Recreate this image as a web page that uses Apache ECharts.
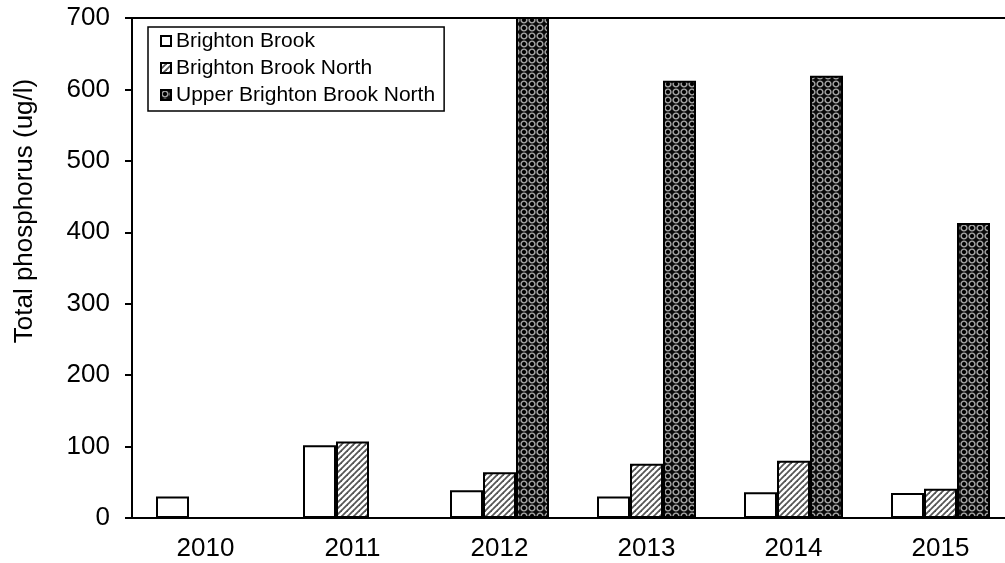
<!DOCTYPE html>
<html>
<head>
<meta charset="utf-8">
<script src="https://cdn.jsdelivr.net/npm/echarts@6/dist/echarts.min.js"></script>
<style>
html,body{margin:0;padding:0;background:#fff;}
#chart{width:1005px;height:563px;}
</style>
</head>
<body>
<div id="chart"></div>
<script>
const categories = ['2010', '2011', '2012', '2013', '2014', '2015'];
const seriesNames = ['Brighton Brook', 'Brighton Brook North', 'Upper Brighton Brook North'];
const brightonBrook = [30, 102, 39, 30, 36, 35];
const brightonBrookNorth = [null, 107, 64, 76, 80, 41];
const upperBrightonBrookNorth = [null, null, 1000, 612, 619, 413];
const yTicks = [0, 100, 200, 300, 400, 500, 600, 700];
const yTitle = 'Total phosphorus (ug/l)';

function hatchPattern() {
  const s = 6;
  const c = document.createElement('canvas');
  c.width = s; c.height = s;
  const g = c.getContext('2d');
  g.fillStyle = '#ffffff';
  g.fillRect(0, 0, s, s);
  g.strokeStyle = '#555555';
  g.lineWidth = 1.8;
  for (let k = -1; k <= 1; k++) {
    g.beginPath();
    g.moveTo(k * s - 1, s + 1);
    g.lineTo(k * s + s + 1, -1);
    g.stroke();
  }
  return c;
}
function latticePattern() {
  const s = 8;
  const c = document.createElement('canvas');
  c.width = s; c.height = s;
  const g = c.getContext('2d');
  g.fillStyle = '#0a0a0a';
  g.fillRect(0, 0, s, s);
  g.strokeStyle = '#a8a8a8';
  g.lineWidth = 1.4;
  g.beginPath();
  g.arc(s / 2, s / 2, 2.9, 0, Math.PI * 2);
  g.stroke();
  g.fillStyle = '#000';
  g.fillRect(s / 2 - 1, s / 2 - 1, 2, 2);
  return c;
}

const chart = echarts.init(document.getElementById('chart'), null, {renderer: 'canvas'});
const fontFam = 'Arial, "Liberation Sans", sans-serif';
const barBase = {
  type: 'bar',
  barWidth: 33,
  barGap: '0%',
  clip: true,
  emphasis: {disabled: true}
};
const option = {
  animation: false,
  backgroundColor: '#ffffff',
  textStyle: {fontFamily: fontFam},
  grid: {
    left: 132, top: 18, width: 882, height: 500,
    outerBoundsMode: 'none',
    containLabel: false,
    show: true, borderColor: '#000', borderWidth: 2, backgroundColor: 'transparent'
  },
  legend: {
    orient: 'vertical',
    left: 148, top: 27,
    padding: [3, 9, 5, 12],
    itemWidth: 10, itemHeight: 10,
    itemGap: 5,
    backgroundColor: '#fff',
    borderColor: '#000', borderWidth: 1.5,
    icon: 'rect',
    textStyle: {fontSize: 21, color: '#000', fontFamily: fontFam, lineHeight: 22},
    data: seriesNames
  },
  xAxis: {
    type: 'category',
    data: categories,
    axisLine: {lineStyle: {color: '#000', width: 2}},
    axisTick: {show: false},
    axisLabel: {fontSize: 26, color: '#000', margin: 18, fontFamily: fontFam},
    splitLine: {show: false}
  },
  yAxis: {
    type: 'value',
    min: 0, max: 700, interval: 100,
    axisLine: {show: true, lineStyle: {color: '#000', width: 2}},
    axisTick: {show: true, inside: false, length: 7, lineStyle: {color: '#000', width: 2}},
    axisLabel: {fontSize: 26, color: '#000', margin: 22, fontFamily: fontFam,
      formatter: v => yTicks.includes(v) ? String(v) : ''},
    splitLine: {show: false}
  },
  graphic: [{
    type: 'text',
    x: 25, y: 211,
    rotation: Math.PI / 2,
    style: {
      text: yTitle, fontSize: 26, fill: '#000', fontFamily: fontFam,
      align: 'center', verticalAlign: 'middle'
    }
  }],
  series: [
    Object.assign({}, barBase, {
      name: seriesNames[0], data: brightonBrook,
      itemStyle: {color: '#ffffff', borderColor: '#000', borderWidth: 2}
    }),
    Object.assign({}, barBase, {
      name: seriesNames[1], data: brightonBrookNorth,
      itemStyle: {color: {image: hatchPattern(), repeat: 'repeat'}, borderColor: '#000', borderWidth: 2}
    }),
    Object.assign({}, barBase, {
      name: seriesNames[2], data: upperBrightonBrookNorth,
      itemStyle: {color: {image: latticePattern(), repeat: 'repeat'}, borderColor: '#000', borderWidth: 2}
    })
  ]
};
chart.setOption(option);
</script>
</body>
</html>
